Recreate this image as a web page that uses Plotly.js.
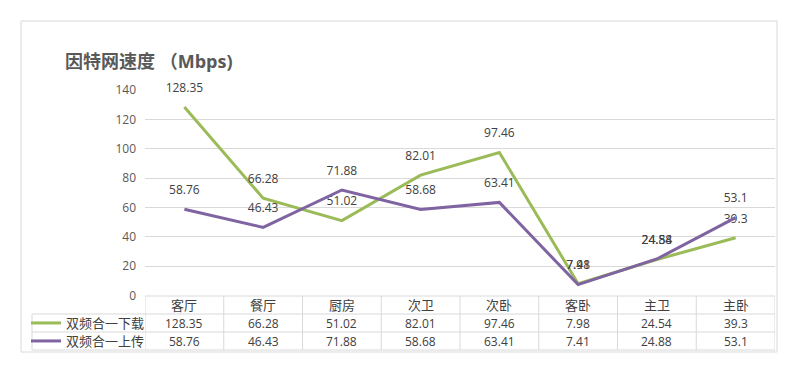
<!DOCTYPE html>
<html>
<head>
<meta charset="utf-8">
<script src="https://cdn.plot.ly/plotly-3.0.1.min.js"></script>
<style>html,body{margin:0;padding:0;background:#fff;}#chart{width:800px;height:374px;}</style>
</head>
<body>
<div id="chart"></div>
<script>
const categories = ['客厅', '餐厅', '厨房', '次卫', '次卧', '客卧', '主卫', '主卧'];
const seriesNames = ['双频合一下载', '双频合一上传'];
const download = [128.35, 66.28, 51.02, 82.01, 97.46, 7.98, 24.54, 39.3];
const upload = [58.76, 46.43, 71.88, 58.68, 63.41, 7.41, 24.88, 53.1];
const yTicks = [0, 20, 40, 60, 80, 100, 120, 140];
const titleText = '因特网速度 （Mbps)';

const colors = ['#9bbb59', '#8064a2'];
const W = 800, H = 374;
const FONT = 'Open Sans, Noto Sans CJK SC, sans-serif';
const GRID = '#d9d9d9';
const py = px => 1 - px / H;   // pixel row -> paper y
const pxx = px => px / W;      // pixel col -> paper x

// table rows (pixel rows of the reference layout)
const rowTop = 296, rowH = [18, 18, 18];
const rowEdges = [rowTop, rowTop + rowH[0], rowTop + rowH[0] + rowH[1], rowTop + rowH[0] + rowH[1] + rowH[2]];
const rowMid = i => (rowEdges[i] + rowEdges[i + 1]) / 2;

function lineTrace(name, vals, color, legendId) {
  return {
    type: 'scatter', mode: 'lines+markers+text', name: name,
    x: categories, y: vals,
    line: {color: color, width: 3},
    marker: {size: 18, color: 'rgba(0,0,0,0)'},
    text: vals.map(v => String(v)),
    textposition: 'top center',
    textfont: {family: FONT, size: 12, color: '#404040'},
    hoverinfo: 'x+y', cliponaxis: false, showlegend: true,
    legend: legendId
  };
}

const annotations = [];
const rows = [categories, download.map(String), upload.map(String)];
rows.forEach((row, r) => {
  row.forEach((txt, i) => {
    annotations.push({
      xref: 'x', yref: 'paper', x: categories[i], y: py(rowMid(r)),
      xanchor: 'center', yanchor: 'middle', showarrow: false,
      text: txt,
      font: {family: FONT, size: r === 0 ? 13 : 12, color: '#404040'}
    });
  });
});

const shapes = [{
  type: 'rect', xref: 'paper', yref: 'paper',
  x0: pxx(21), x1: pxx(777), y0: py(352), y1: py(21),
  line: {color: GRID, width: 1}, layer: 'below'
}];
// horizontal table lines
rowEdges.forEach((e, k) => {
  if (k === 0) {
    shapes.push({type: 'line', xref: 'x', yref: 'paper', x0: -0.5, x1: categories.length - 0.5,
      y0: py(e), y1: py(e), line: {color: GRID, width: 1}});
  } else {
    shapes.push({type: 'line', xref: 'paper', yref: 'paper', x0: pxx(32), x1: pxx(775),
      y0: py(e), y1: py(e), line: {color: GRID, width: 1}});
  }
});
// vertical table lines at category boundaries
for (let i = 0; i <= categories.length; i++) {
  shapes.push({type: 'line', xref: 'x', yref: 'paper', x0: i - 0.5, x1: i - 0.5,
    y0: py(rowEdges[0]), y1: py(rowEdges[3]), line: {color: GRID, width: 1}});
}
// legend column left border
shapes.push({type: 'line', xref: 'paper', yref: 'paper', x0: pxx(32), x1: pxx(32),
  y0: py(rowEdges[1]), y1: py(rowEdges[3]), line: {color: GRID, width: 1}});

function legendBox(rowIdx) {
  return {
    x: pxx(26), xanchor: 'left', xref: 'paper',
    y: py(rowMid(rowIdx)), yanchor: 'middle', yref: 'paper',
    bgcolor: 'rgba(0,0,0,0)', borderwidth: 0, itemwidth: 30,
    font: {family: FONT, size: 13, color: '#404040'}
  };
}

const layout = {
  width: W, height: H,
  margin: {l: 0, r: 0, t: 0, b: 0},
  paper_bgcolor: '#ffffff', plot_bgcolor: '#ffffff',
  showlegend: true,
  legend: legendBox(1),
  legend2: legendBox(2),
  title: {
    text: '<b>' + titleText + '</b>',
    x: pxx(65), xanchor: 'left', xref: 'paper',
    y: py(62), yanchor: 'middle', yref: 'paper',
    font: {family: FONT, size: 18, color: '#595959'}
  },
  xaxis: {
    domain: [pxx(145), pxx(775)],
    type: 'category', range: [-0.5, categories.length - 0.5],
    showticklabels: false, showgrid: false, zeroline: false, showline: false, ticks: ''
  },
  yaxis: {
    domain: [py(295.5), py(90)],
    range: [0, 140], tickvals: yTicks, ticktext: yTicks.map(String),
    showgrid: true, gridcolor: GRID, gridwidth: 1,
    zeroline: false, showline: false, ticks: '',
    ticklabelstandoff: 8,
    tickfont: {family: FONT, size: 12, color: '#595959'}
  },
  annotations: annotations,
  shapes: shapes
};

Plotly.newPlot('chart', [
  lineTrace(seriesNames[0], download, colors[0], 'legend'),
  lineTrace(seriesNames[1], upload, colors[1], 'legend2')
], layout, {displayModeBar: false, staticPlot: true});
</script>
</body>
</html>
